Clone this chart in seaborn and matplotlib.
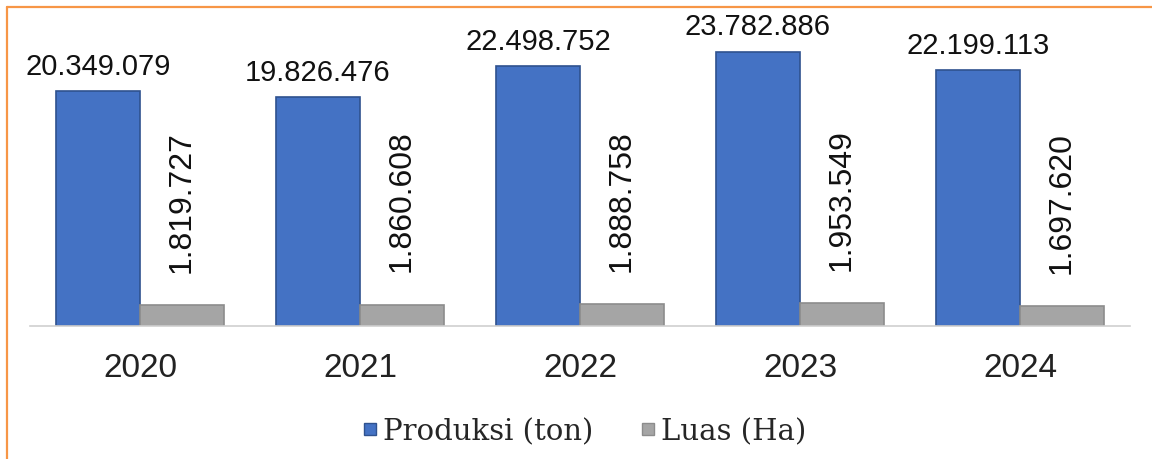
import numpy as np
import pandas as pd
import matplotlib
matplotlib.use("Agg")
import matplotlib.pyplot as plt
import seaborn as sns
from matplotlib.lines import Line2D

# === Data ===
years = ["2020", "2021", "2022", "2023", "2024"]
produksi = [20349079, 19826476, 22498752, 23782886, 22199113]
luas = [1819727, 1860608, 1888758, 1953549, 1697620]
series = ["Produksi (ton)", "Luas (Ha)"]

df = pd.DataFrame({
    "Tahun": years * 2,
    "Nilai": produksi + luas,
    "Seri": [series[0]] * len(years) + [series[1]] * len(years),
})

def fmt(v):
    return f"{int(v):,}".replace(",", ".")

# === Style ===
sns.set_style("white")
plt.rcParams["font.family"] = ["Liberation Sans", "DejaVu Sans"]

fig = plt.figure(figsize=(11.52, 4.6), dpi=100)
ax = fig.add_axes([30 / 1152, 133 / 460, 1100 / 1152, 307 / 460])

blue, gray = "#4472C4", "#A5A5A5"
sns.barplot(data=df, x="Tahun", y="Nilai", hue="Seri", palette=[blue, gray],
            width=0.764, gap=0, saturation=1, legend=False, ax=ax)

edges = ["#2F528F", "#8C8C8C"]
for cont, ec in zip(ax.containers, edges):
    for bar in cont:
        bar.set_edgecolor(ec)
        bar.set_linewidth(1.2)

ax.bar_label(ax.containers[0], labels=[fmt(v) for v in produksi],
             padding=8, fontsize=21, color="#111111")
ax.bar_label(ax.containers[1], labels=[fmt(v) for v in luas],
             padding=24, fontsize=23, rotation=90, color="#111111")

ax.set_xlim(-0.5, 4.5)
ax.set_ylim(0, 26.6e6)
ax.set_xlabel("")
ax.set_ylabel("")
ax.set_yticks([])
ax.tick_params(axis="x", length=0, pad=19, labelsize=24, labelcolor="#222222")
for s in ["top", "right", "left"]:
    ax.spines[s].set_visible(False)
ax.spines["bottom"].set_color("#D0D0D0")
ax.spines["bottom"].set_linewidth(1.2)

# === Legend ===
handles = [
    Line2D([], [], marker="s", linestyle="", markersize=9,
           markerfacecolor=blue, markeredgecolor="#2F528F"),
    Line2D([], [], marker="s", linestyle="", markersize=9,
           markerfacecolor=gray, markeredgecolor="#8C8C8C"),
]
fig.legend(handles, series, loc="center", bbox_to_anchor=(583 / 1152, 1 - 432 / 460),
           ncol=2, frameon=False, handletextpad=0.1, columnspacing=1.5,
           handlelength=0.7, prop={"family": "DejaVu Serif", "size": 21})

# === Orange frame ===
orange = "#F79646"
fig.add_artist(Line2D([7 / 1152, 7 / 1152], [0, 1 - 8 / 460],
                      transform=fig.transFigure, color=orange, lw=1.6))
fig.add_artist(Line2D([7 / 1152, 1], [1 - 8 / 460, 1 - 8 / 460],
                      transform=fig.transFigure, color=orange, lw=1.6))

fig.savefig("out.png", dpi=100)
